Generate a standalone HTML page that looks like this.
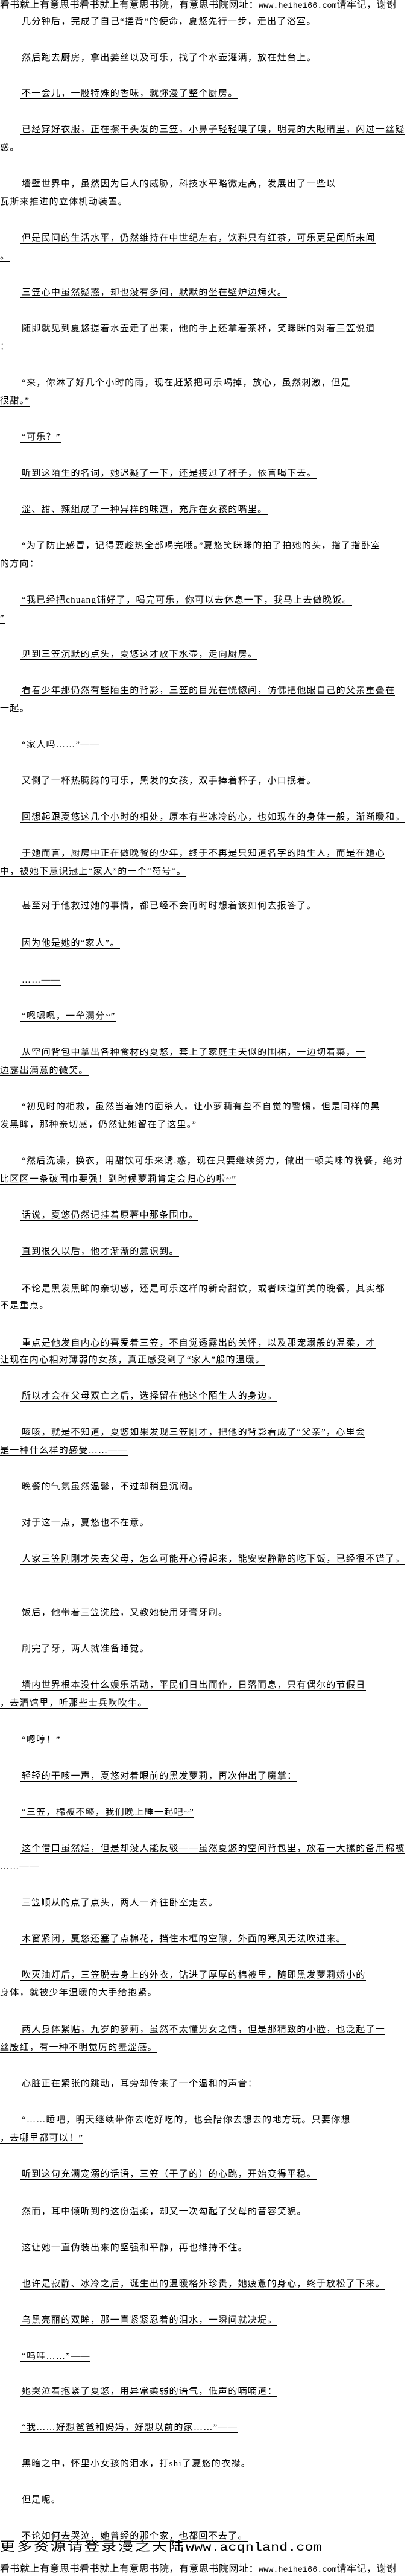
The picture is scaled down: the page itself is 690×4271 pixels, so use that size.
<!DOCTYPE html>
<html><head><meta charset="utf-8">
<style>
html,body{margin:0;padding:0;background:#fff;}
body{width:690px;height:4270px;position:relative;overflow:hidden;font-family:"Liberation Serif","Noto Sans CJK SC","WenQuanYi Zen Hei",serif;color:#000;}
.l{position:absolute;height:16px;line-height:16px;font-size:15px;letter-spacing:1.3px;white-space:nowrap;border-bottom:1px solid #000;max-width:685px;overflow:hidden;}
.i{left:33px;padding-left:3px;}
.w{left:0;}
.hd{position:absolute;left:0;width:690px;font-size:16px;line-height:18px;white-space:nowrap;letter-spacing:0.5px;font-family:"Liberation Serif","Noto Sans CJK SC",serif;}
.hd .u{font-family:"Liberation Mono",monospace;font-size:13.5px;letter-spacing:0;}
.ft{position:absolute;left:0;top:4210px;font-size:25px;line-height:26px;white-space:nowrap;transform:scaleY(0.82);transform-origin:0 0;}
.ft .c{letter-spacing:3px;font-family:"Noto Sans CJK SC",sans-serif;}
.ft .u{font-family:"Liberation Mono",monospace;font-size:23.5px;}
</style></head><body>
<div class="hd" style="top:0">看书就上有意思书看书就上有意思书院，有意思书院网址：<span class="u">www.heihei66.com</span>请牢记，谢谢</div>
<div style="position:absolute;left:30px;top:23px;width:230px;border-top:1px dotted #bbb;"></div>

<div class="l i" style="top:28px">几分钟后，完成了自己“搓背”的使命，夏悠先行一步，走出了浴室。</div>
<div class="l i" style="top:88px">然后跑去厨房，拿出姜丝以及可乐，找了个水壶灌满，放在灶台上。</div>
<div class="l i" style="top:147px">不一会儿，一股特殊的香味，就弥漫了整个厨房。</div>
<div class="l i" style="top:207px">已经穿好衣服，正在擦干头发的三笠，小鼻子轻轻嗅了嗅，明亮的大眼睛里，闪过一丝疑</div>
<div class="l w" style="top:237px">惑。</div>
<div class="l i" style="top:297px">墙壁世界中，虽然因为巨人的威胁，科技水平略微走高，发展出了一些以</div>
<div class="l w" style="top:327px">瓦斯来推进的立体机动装置。</div>
<div class="l i" style="top:387px">但是民间的生活水平，仍然维持在中世纪左右，饮料只有红茶，可乐更是闻所未闻</div>
<div class="l w" style="top:417px">。</div>
<div class="l i" style="top:477px">三笠心中虽然疑惑，却也没有多问，默默的坐在壁炉边烤火。</div>
<div class="l i" style="top:537px">随即就见到夏悠提着水壶走了出来，他的手上还拿着茶杯，笑眯眯的对着三笠说道</div>
<div class="l w" style="top:567px">：</div>
<div class="l i" style="top:627px">“来，你淋了好几个小时的雨，现在赶紧把可乐喝掉，放心，虽然刺激，但是</div>
<div class="l w" style="top:657px">很甜。”</div>
<div class="l i" style="top:717px">“可乐？”</div>
<div class="l i" style="top:777px">听到这陌生的名词，她迟疑了一下，还是接过了杯子，依言喝下去。</div>
<div class="l i" style="top:837px">涩、甜、辣组成了一种异样的味道，充斥在女孩的嘴里。</div>
<div class="l i" style="top:897px">“为了防止感冒，记得要趁热全部喝完哦。”夏悠笑眯眯的拍了拍她的头，指了指卧室</div>
<div class="l w" style="top:927px">的方向：</div>
<div class="l i" style="top:987px">“我已经把chuang铺好了，喝完可乐，你可以去休息一下，我马上去做晚饭。</div>
<div class="l w" style="top:1017px">”</div>
<div class="l i" style="top:1077px">见到三笠沉默的点头，夏悠这才放下水壶，走向厨房。</div>
<div class="l i" style="top:1137px">看着少年那仍然有些陌生的背影，三笠的目光在恍惚间，仿佛把他跟自己的父亲重叠在</div>
<div class="l w" style="top:1167px">一起。</div>
<div class="l i" style="top:1227px">“家人吗……”——</div>
<div class="l i" style="top:1287px">又倒了一杯热腾腾的可乐，黑发的女孩，双手捧着杯子，小口抿着。</div>
<div class="l i" style="top:1347px">回想起跟夏悠这几个小时的相处，原本有些冰冷的心，也如现在的身体一般，渐渐暖和。</div>
<div class="l i" style="top:1407px">于她而言，厨房中正在做晚餐的少年，终于不再是只知道名字的陌生人，而是在她心</div>
<div class="l w" style="top:1437px">中，被她下意识冠上“家人”的一个“符号”。</div>
<div class="l i" style="top:1494px">甚至对于他救过她的事情，都已经不会再时时想着该如何去报答了。</div>
<div class="l i" style="top:1556px">因为他是她的“家人”。</div>
<div class="l i" style="top:1617px">……——</div>
<div class="l i" style="top:1677px">“嗯嗯嗯，一垒满分~”</div>
<div class="l i" style="top:1737px">从空间背包中拿出各种食材的夏悠，套上了家庭主夫似的围裙，一边切着菜，一</div>
<div class="l w" style="top:1767px">边露出满意的微笑。</div>
<div class="l i" style="top:1827px">“初见时的相救，虽然当着她的面杀人，让小萝莉有些不自觉的警惕，但是同样的黑</div>
<div class="l w" style="top:1857px">发黑眸，那种亲切感，仍然让她留在了这里。”</div>
<div class="l i" style="top:1917px">“然后洗澡，换衣，用甜饮可乐来诱.惑，现在只要继续努力，做出一顿美味的晚餐，绝对</div>
<div class="l w" style="top:1947px">比区区一条破围巾要强！到时候萝莉肯定会归心的啦~”</div>
<div class="l i" style="top:2007px">话说，夏悠仍然记挂着原著中那条围巾。</div>
<div class="l i" style="top:2067px">直到很久以后，他才渐渐的意识到。</div>
<div class="l i" style="top:2129px">不论是黑发黑眸的亲切感，还是可乐这样的新奇甜饮，或者味道鲜美的晚餐，其实都</div>
<div class="l w" style="top:2157px">不是重点。</div>
<div class="l i" style="top:2219px">重点是他发自内心的喜爱着三笠，不自觉透露出的关怀，以及那宠溺般的温柔，才</div>
<div class="l w" style="top:2247px">让现在内心相对薄弱的女孩，真正感受到了“家人”般的温暖。</div>
<div class="l i" style="top:2307px">所以才会在父母双亡之后，选择留在他这个陌生人的身边。</div>
<div class="l i" style="top:2367px">咳咳，就是不知道，夏悠如果发现三笠刚才，把他的背影看成了“父亲”，心里会</div>
<div class="l w" style="top:2397px">是一种什么样的感受……——</div>
<div class="l i" style="top:2457px">晚餐的气氛虽然温馨，不过却稍显沉闷。</div>
<div class="l i" style="top:2517px">对于这一点，夏悠也不在意。</div>
<div class="l i" style="top:2577px">人家三笠刚刚才失去父母，怎么可能开心得起来，能安安静静的吃下饭，已经很不错了。</div>
<div class="l i" style="top:2666px">饭后，他带着三笠洗脸，又教她使用牙膏牙刷。</div>
<div class="l i" style="top:2726px">刷完了牙，两人就准备睡觉。</div>
<div class="l i" style="top:2786px">墙内世界根本没什么娱乐活动，平民们日出而作，日落而息，只有偶尔的节假日</div>
<div class="l w" style="top:2816px">，去酒馆里，听那些士兵吹吹牛。</div>
<div class="l i" style="top:2877px">“嗯哼！”</div>
<div class="l i" style="top:2937px">轻轻的干咳一声，夏悠对着眼前的黑发萝莉，再次伸出了魔掌：</div>
<div class="l i" style="top:2997px">“三笠，棉被不够，我们晚上睡一起吧~”</div>
<div class="l i" style="top:3057px">这个借口虽然烂，但是却没人能反驳——虽然夏悠的空间背包里，放着一大摞的备用棉被</div>
<div class="l w" style="top:3087px">……——</div>
<div class="l i" style="top:3147px">三笠顺从的点了点头，两人一齐往卧室走去。</div>
<div class="l i" style="top:3207px">木窗紧闭，夏悠还塞了点棉花，挡住木框的空隙，外面的寒风无法吹进来。</div>
<div class="l i" style="top:3267px">吹灭油灯后，三笠脱去身上的外衣，钻进了厚厚的棉被里，随即黑发萝莉娇小的</div>
<div class="l w" style="top:3296px">身体，就被少年温暖的大手给抱紧。</div>
<div class="l i" style="top:3357px">两人身体紧贴，九岁的萝莉，虽然不太懂男女之情，但是那精致的小脸，也泛起了一</div>
<div class="l w" style="top:3387px">丝殷红，有一种不明觉厉的羞涩感。</div>
<div class="l i" style="top:3447px">心脏正在紧张的跳动，耳旁却传来了一个温和的声音：</div>
<div class="l i" style="top:3507px">“……睡吧，明天继续带你去吃好吃的，也会陪你去想去的地方玩。只要你想</div>
<div class="l w" style="top:3537px">，去哪里都可以！”</div>
<div class="l i" style="top:3597px">听到这句充满宠溺的话语，三笠（干了的）的心跳，开始变得平稳。</div>
<div class="l i" style="top:3659px">然而，耳中倾听到的这份温柔，却又一次勾起了父母的音容笑貌。</div>
<div class="l i" style="top:3719px">这让她一直伪装出来的坚强和平静，再也维持不住。</div>
<div class="l i" style="top:3779px">也许是寂静、冰冷之后，诞生出的温暖格外珍贵，她疲惫的身心，终于放松了下来。</div>
<div class="l i" style="top:3839px">乌黑亮丽的双眸，那一直紧紧忍着的泪水，一瞬间就决堤。</div>
<div class="l i" style="top:3899px">“呜哇……”——</div>
<div class="l i" style="top:3957px">她哭泣着抱紧了夏悠，用异常柔弱的语气，低声的喃喃道：</div>
<div class="l i" style="top:4017px">“我……好想爸爸和妈妈，好想以前的家……”——</div>
<div class="l i" style="top:4077px">黑暗之中，怀里小女孩的泪水，打shi了夏悠的衣襟。</div>
<div class="l i" style="top:4137px">但是呢。</div>
<div class="l i" style="top:4197px">不论如何去哭泣，她曾经的那个家，也都回不去了。</div>

<div class="ft"><span class="c">更多资源请登录漫之天陆</span><span class="u">www.acqnland.com</span></div>
<div class="hd" style="top:4251px">看书就上有意思书看书就上有意思书院，有意思书院网址：<span class="u">www.heihei66.com</span>请牢记，谢谢</div>
</body></html>
